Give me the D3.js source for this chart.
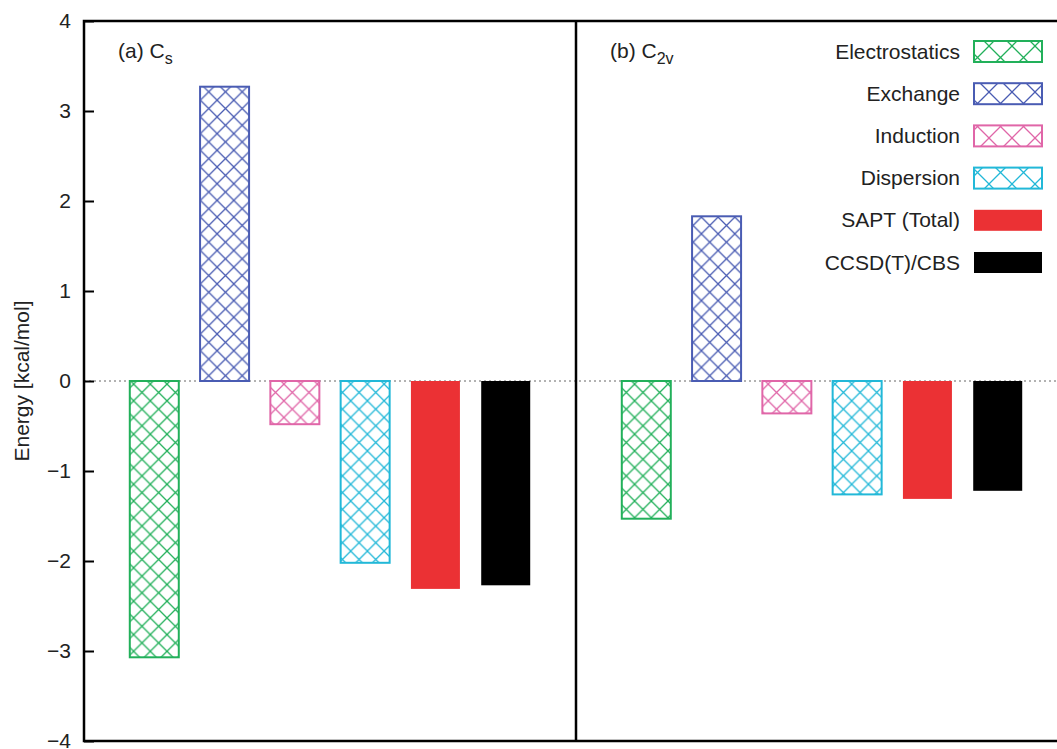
<!DOCTYPE html>
<html>
<head>
<meta charset="utf-8">
<script src="https://cdn.jsdelivr.net/npm/d3@7"></script>
<style>
  html, body { margin: 0; padding: 0; background: #fff; }
  svg { display: block; font-family: "Liberation Sans", Arial, Helvetica, sans-serif; }
</style>
</head>
<body>
<svg id="chart" width="1057" height="749"></svg>
<script>
// SAPT energy components (kcal/mol) for the two geometries
const components = ["Electrostatics", "Exchange", "Induction", "Dispersion", "SAPT (Total)", "CCSD(T)/CBS"];
const hatched = [true, true, true, true, false, false];
const colors = ["#22b05a", "#4a5cb3", "#e066a8", "#22b8d8", "#eb3134", "#000000"];
const panelLabels = ["(a) C", "(b) C"];
const panelSubs = ["s", "2v"];
const valuesCs = [-3.07, 3.27, -0.48, -2.02, -2.31, -2.27];
const valuesC2v = [-1.53, 1.83, -0.36, -1.26, -1.31, -1.22];
const yTicks = [-4, -3, -2, -1, 0, 1, 2, 3, 4];

const svg = d3.select("#chart");
const plotTop = 21, plotBottom = 741;
const panels = [
  { x0: 84, x1: 576, values: valuesCs },
  { x0: 576, x1: 1068, values: valuesC2v }
];

const y = d3.scaleLinear().domain([-4, 4]).range([plotBottom, plotTop]);

// crosshatch fills
const defs = svg.append("defs");
function hatch(id, color, size) {
  const p = defs.append("pattern")
    .attr("id", id)
    .attr("patternUnits", "userSpaceOnUse")
    .attr("width", size).attr("height", size);
  p.append("rect").attr("width", size).attr("height", size).attr("fill", "#fff");
  p.append("path")
    .attr("d", `M0,0L${size},${size}M${size},0L0,${size}`)
    .attr("stroke", color).attr("stroke-width", 1.3).attr("fill", "none");
  return `url(#${id})`;
}
const fills = components.map((c, i) => hatched[i] ? hatch("h" + i, colors[i], 16.7) : colors[i]);
const legendFills = components.map((c, i) => hatched[i] ? hatch("lh" + i, colors[i], 23) : colors[i]);

// zero reference line
svg.append("line")
  .attr("x1", 84).attr("x2", 1068)
  .attr("y1", y(0)).attr("y2", y(0))
  .attr("stroke", "#666").attr("stroke-width", 1)
  .attr("stroke-dasharray", "2,3");

// bars for each panel
panels.forEach((pn, pi) => {
  const x = d3.scalePoint().domain(components).range([pn.x0, pn.x1]).padding(1);
  const bw = 49;
  svg.append("g").selectAll("rect")
    .data(components.map((c, i) => ({ c, i, v: pn.values[i] })))
    .join("rect")
    .attr("x", d => x(d.c) - bw / 2)
    .attr("width", bw)
    .attr("y", d => y(Math.max(0, d.v)))
    .attr("height", d => Math.abs(y(d.v) - y(0)))
    .attr("fill", d => fills[d.i])
    .attr("stroke", d => colors[d.i])
    .attr("stroke-width", d => hatched[d.i] ? 2 : 0);

  const t = svg.append("text")
    .attr("x", pn.x0 + 34).attr("y", 58)
    .attr("font-size", 21).attr("fill", "#222")
    .text(panelLabels[pi]);
  t.append("tspan").attr("dy", 6).attr("font-size", 16).text(panelSubs[pi]);
});

// left axis with inward ticks
const yAxis = d3.axisLeft(y).tickValues(yTicks).tickSize(-10).tickPadding(13).tickFormat(d3.format("d"));
const ag = svg.append("g").attr("transform", "translate(84,0)").call(yAxis);
ag.select(".domain").remove();
ag.selectAll(".tick line").attr("stroke", "#000").attr("stroke-width", 2);
ag.selectAll(".tick text").attr("font-size", 21).attr("fill", "#222")
  .attr("font-family", "Liberation Sans, Arial, sans-serif");

// frame and panel divider
const frame = svg.append("g").attr("stroke", "#000").attr("stroke-width", 2.5).attr("fill", "none");
frame.append("path").attr("d", `M1068,${plotTop}H84V${plotBottom}H1068`);
frame.append("line").attr("x1", 576).attr("x2", 576).attr("y1", plotTop).attr("y2", plotBottom);

// axis title
svg.append("text")
  .attr("transform", `translate(29,${(plotTop + plotBottom) / 2}) rotate(-90)`)
  .attr("text-anchor", "middle")
  .attr("font-size", 21).attr("fill", "#222")
  .text("Energy [kcal/mol]");

// legend
const lg = svg.append("g");
components.forEach((c, i) => {
  const cy = 51 + i * 42.2;
  lg.append("text")
    .attr("x", 960).attr("y", cy + 7.5)
    .attr("text-anchor", "end")
    .attr("font-size", 21).attr("fill", "#222")
    .text(c);
  lg.append("rect")
    .attr("x", 974).attr("y", cy - 10)
    .attr("width", 68).attr("height", 21)
    .attr("fill", legendFills[i])
    .attr("stroke", colors[i])
    .attr("stroke-width", hatched[i] ? 2 : 0);
});
</script>
</body>
</html>
